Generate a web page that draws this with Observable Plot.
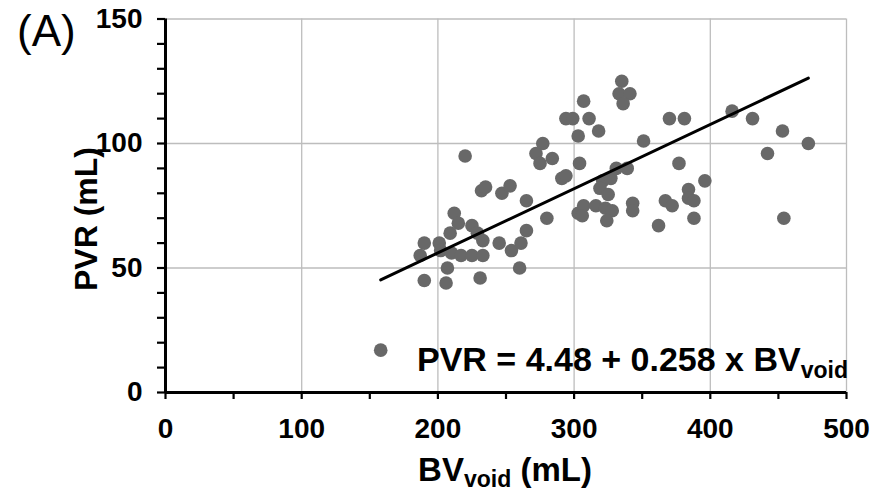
<!DOCTYPE html>
<html><head><meta charset="utf-8">
<script src="https://cdn.jsdelivr.net/npm/d3@7"></script>
<script src="https://cdn.jsdelivr.net/npm/@observablehq/plot@0.6"></script>
<style>
html,body{margin:0;padding:0;background:#fff;}
</style></head><body><div id="chart"></div>
<script>
// BV_void (mL) and PVR (mL) for each subject
const bvVoid = [158,187,190,190,201,202,207,206,209,210,
  212,215,217,220,225,229,233,225,233,231,
  232,235,247,253,245,254,261,260,265,265,
  277,272,275,284,280,291,294,294,299,303,
  304,307,311,318,303,307,306,316,321,327,
  319,325,323,328,324,331,339,333,341,335,
  336,343,343,351,362,367,372,370,381,377,
  384,384,388,388,396,416,431,453,442,454,
  472];
const pvr = [17,55,60,45,60,57,50,44,64,56,
  72,68,55,95,67,64,61,55,55,46,
  81,82.5,80,83,60,57,60,50,77,65,
  100,96,92,94,70,86,87,110,110,103,
  92,117,110,105,72,75,71,75,85,86,
  82,79.5,74,73,69,90,90,120,120,125,
  116,76,73,101,67,77,75,110,110,92,
  81.5,78,77,70,85,113,110,105,96,70,
  100];
// regression line PVR = 4.48 + 0.258 x BV_void, drawn over the observed BV range
const fitIntercept = 4.48;
const fitSlope = 0.258;
const fitRange = [158, 472];
// axis ticks
const xTicks = [0,50,100,150,200,250,300,350,400,450,500];
const xLabelTicks = [0,100,200,300,400,500];
const yTicks = [0,10,20,30,40,50,60,70,80,90,100,110,120,130,140,150];
const yLabelTicks = [0,50,100,150];
const xGrid = [100,200,300,400,500];
const yGrid = [50,100,150];

const points = bvVoid.map((x, i) => ({x, y: pvr[i]}));
const fit = fitRange.map(x => ({x, y: fitIntercept + fitSlope * x}));

const font = "'Liberation Sans', Arial, sans-serif";
const chart = Plot.plot({
  width: 884, height: 493,
  marginLeft: 165, marginRight: 38, marginTop: 18.5, marginBottom: 101,
  style: {fontFamily: font, background: "#fff", color: "#000"},
  x: {domain: [0, 500]},
  y: {domain: [0, 150]},
  marks: [
    Plot.gridX(xGrid, {stroke: "#bdbdbd", strokeOpacity: 1, strokeWidth: 1.3}),
    Plot.gridY(yGrid, {stroke: "#bdbdbd", strokeOpacity: 1, strokeWidth: 1.3}),
    Plot.axisX({ticks: xTicks, tickSize: 7, tickPadding: 19, strokeWidth: 2.2,
      tickFormat: d => xLabelTicks.includes(d) ? String(d) : "",
      fontSize: 28, fontWeight: "bold", label: null}),
    Plot.axisY({ticks: yTicks, tickSize: 8, tickPadding: 15, strokeWidth: 2.2,
      tickFormat: d => yLabelTicks.includes(d) ? String(d) : "",
      fontSize: 28, fontWeight: "bold", label: null}),
    Plot.ruleY([0], {stroke: "#000", strokeWidth: 3}),
    Plot.ruleX([0], {stroke: "#000", strokeWidth: 3}),
    Plot.dot(points, {x: "x", y: "y", r: 6.8, fill: "#686868", stroke: "none"}),
    Plot.line(fit, {x: "x", y: "y", stroke: "#000", strokeWidth: 3})
  ]
});
document.getElementById("chart").appendChild(chart);

const svg = d3.select(chart);
// panel label
svg.append("text").attr("x", 17).attr("y", 46).attr("text-anchor", "start")
  .attr("font-family", font).attr("font-size", 44).attr("fill", "#000").text("(A)");
// y title
svg.append("text").attr("transform", "translate(97,219) rotate(-90)")
  .attr("text-anchor", "middle").attr("font-family", font).attr("font-weight", "bold")
  .attr("font-size", 32).attr("fill", "#000").text("PVR (mL)");
// x title
const xt = svg.append("text").attr("x", 505).attr("y", 481)
  .attr("text-anchor", "middle").attr("font-family", font).attr("font-weight", "bold")
  .attr("font-size", 33).attr("fill", "#000");
xt.append("tspan").text("BV");
xt.append("tspan").attr("font-size", 23).attr("dy", 6).text("void");
xt.append("tspan").attr("dy", -6).text(" (mL)");
// equation
const eq = svg.append("text").attr("x", 417).attr("y", 371).attr("text-anchor", "start")
  .attr("font-family", font).attr("font-weight", "bold")
  .attr("font-size", 34).attr("fill", "#000");
eq.append("tspan").text("PVR = 4.48 + 0.258 x BV");
eq.append("tspan").attr("font-size", 23).attr("dy", 7).text("void");
</script>
</body></html>
